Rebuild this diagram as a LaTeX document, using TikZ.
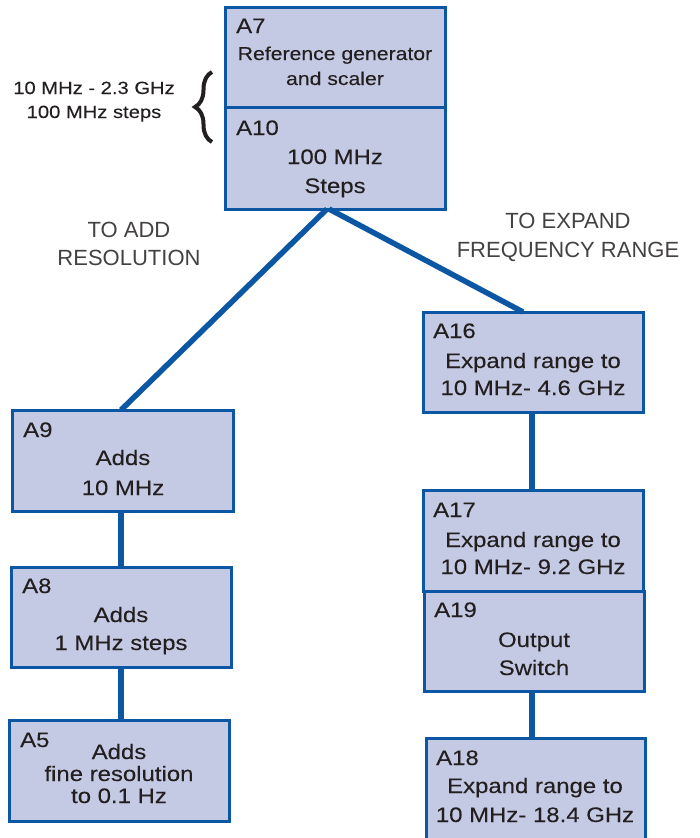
\documentclass[tikz,border=0pt]{standalone}
\usepackage{fontspec}
\setmainfont{Liberation Sans}
\newfontfamily\boxfont{Liberation Sans}[FakeStretch=1.14,FakeBold=0.12]
\usetikzlibrary{decorations.pathreplacing}
\definecolor{boxfill}{HTML}{C5CAE4}
\definecolor{boxline}{HTML}{0B57A4}
\definecolor{ink}{HTML}{231F20}
\newcommand\unitbox[5]{\node[unitbox, minimum width={(#4-#2)*1pt}, minimum height={(#5-#3)*1pt}] (#1) at ({(#2+#4)/2},{(#3+#5)/2}) {};}
\begin{document}
\begin{tikzpicture}[x=1pt,y=-1pt,
  unitbox/.style={draw=boxline, fill=boxfill, line width=3pt, inner sep=0pt, rectangle},
  link/.style={draw=boxline, line width=5.5pt},
  txt/.style={text=ink, inner sep=0pt, anchor=base, font=\boxfont\fontsize{21}{25}\selectfont},
  smalltxt/.style={txt, font=\boxfont\fontsize{18.6}{25}\selectfont},
  idlab/.style={txt, anchor=base west},
  bracetxt/.style={text=ink, inner sep=0pt, anchor=base, font=\boxfont\fontsize{17.7}{22}\selectfont},
  pathtxt/.style={text=ink!85, inner sep=0pt, anchor=base, font=\fontsize{22}{28}\selectfont}]
\useasboundingbox (0,0) rectangle (700,838);

% boxes
\unitbox{a7}{225}{7}{445}{107}
\unitbox{a10}{225}{107}{445}{209}
\unitbox{a16}{423}{312}{643}{412}
\unitbox{a17}{423}{490}{643}{591}
\unitbox{a19}{424}{591}{644}{691}
\unitbox{a18}{426}{738}{645}{850}
\unitbox{a9}{12}{410}{233}{511}
\unitbox{a8}{11}{567}{231}{667}
\unitbox{a5}{9}{720}{229}{821}

% texts in boxes
\node[idlab] (a7id) at (236,33) {A7};
\node[smalltxt] (a7t1) at (335,60) {Reference generator};
\node[smalltxt] (a7t2) at (335,85) {and scaler};

\node[idlab] (a10id) at (236,135) {A10};
\node[txt] (a10t1) at (335,164) {100 MHz};
\node[txt] (a10t2) at (335,193) {Steps};

\node[idlab] (a16id) at (433,338) {A16};
\node[txt] (a16t1) at (533,368) {Expand range to};
\node[txt] (a16t2) at (533,395) {10 MHz- 4.6 GHz};

\node[idlab] (a17id) at (433,517) {A17};
\node[txt] (a17t1) at (533,547) {Expand range to};
\node[txt] (a17t2) at (533,574) {10 MHz- 9.2 GHz};

\node[idlab] (a19id) at (434,617) {A19};
\node[txt] (a19t1) at (534,647) {Output};
\node[txt] (a19t2) at (534,675) {Switch};

\node[idlab] (a18id) at (436,765) {A18};
\node[txt] (a18t1) at (535,793) {Expand range to};
\node[txt] (a18t2) at (535,822) {10 MHz- 18.4 GHz};

\node[idlab] (a9id) at (23,437) {A9};
\node[txt] (a9t1) at (123,465) {Adds};
\node[txt] (a9t2) at (123,495) {10 MHz};

\node[idlab] (a8id) at (22,593) {A8};
\node[txt] (a8t1) at (121,622) {Adds};
\node[txt] (a8t2) at (121,650) {1 MHz steps};

\node[idlab] (a5id) at (20,747) {A5};
\node[txt] (a5t1) at (119,759) {Adds};
\node[txt] (a5t2) at (119,781) {fine resolution};
\node[txt] (a5t3) at (119,803) {to 0.1 Hz};

% brace and its text
\draw[ink, line width=4pt, decorate, decoration={brace, amplitude=17pt}] (212,142) -- (212,72);
\node[bracetxt] (br1) at (94,94) {10 MHz - 2.3 GHz};
\node[bracetxt] (br2) at (94,118) {100 MHz steps};

% path labels
\node[pathtxt] (lres1) at (129,237) {TO ADD};
\node[pathtxt] (lres2) at (129,265) {RESOLUTION};
\node[pathtxt] (lexp1) at (568,228) {TO EXPAND};
\node[pathtxt] (lexp2) at (568,257) {FREQUENCY RANGE};

% connectors
\coordinate (splitL) at (327,209);
\coordinate (splitR) at (329,209);
\coordinate (a9in) at (121,410);
\coordinate (a16in) at (523,312);
\coordinate (rx) at (532,0);
\draw[link] (splitL) -- (a9in);
\draw[link] (splitR) -- (a16in);
\draw[link] (a8.north) -- (a8.north |- a9.south);
\draw[link] (a8.south) -- (a8.south |- a5.north);
\draw[link] (a16.south -| rx) -- (a17.north -| rx);
\draw[link] (a19.south -| rx) -- (a18.north -| rx);
\end{tikzpicture}
\end{document}
